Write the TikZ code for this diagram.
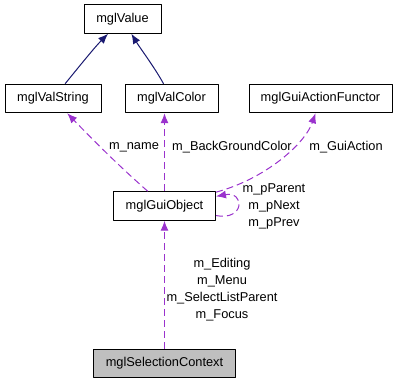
\documentclass[tikz,border=0pt]{standalone}
\usepackage{fontspec}
\setmainfont{Liberation Sans}
\usetikzlibrary{arrows.meta}
\definecolor{midnightblue}{HTML}{191970}
\definecolor{darkorchid3}{HTML}{9A32CD}
\definecolor{grey75}{HTML}{BFBFBF}

\begin{document}
\begin{tikzpicture}[>={Latex[length=10bp,width=8bp]},line join=bevel,
  font=\fontsize{12.8bp}{17bp}\selectfont,
  cls/.style={draw,line width=1bp,minimum height=28.5bp,inner sep=0pt},
  inherit/.style={midnightblue,line width=1bp,->},
  usage/.style={darkorchid3,line width=1bp,dash pattern=on 7bp off 4bp,->},
]
\useasboundingbox (0bp,0bp) rectangle (399bp,384bp);
%%
\node (node_0) at (122.5bp,365bp) [cls,minimum width=77bp] {mglValue};
  \node (node_1) at (53bp,285.5bp) [cls,minimum width=96bp] {mglValString};
  \node (node_2) at (171.5bp,285.5bp) [cls,minimum width=93bp] {mglValColor};
  \node (node_3) at (320.5bp,285.5bp) [cls,minimum width=143bp] {mglGuiActionFunctor};
  \node (node_4) at (164.5bp,178bp) [cls,minimum width=102bp] {mglGuiObject};
  \node (node_5) at (164.5bp,20.5bp) [cls,fill=grey75,minimum width=142bp] {mglSelectionContext};
%
  \draw [inherit] (node_1) ..controls (78bp,316bp) and (94bp,336bp)  .. (node_0);
  \draw [inherit] (node_2) ..controls (155bp,316bp) and (140bp,336bp)  .. (node_0);
%
  \draw [usage] (node_4) ..controls (119bp,218bp) and (94bp,243bp)  .. (node_1);
  \node (node_6) at (134bp,237bp) {m\_name};
  \draw [usage] (node_4) -- (node_4 |- node_2.south);
  \node (node_7) at (232bp,237bp) {m\_BackGroundColor};
  \draw [usage] (node_4) ..controls (265bp,205bp) and (305bp,240bp)  .. (node_3);
  \node (node_8) at (346bp,237bp) {m\_GuiAction};
  \draw [usage] (node_4) ..controls (245bp,163bp) and (245bp,193bp)  .. (node_4);
  \node (node_9) at (274bp,178bp) [align=center] {m\_pParent\\m\_pNext\\m\_pPrev};
  \draw [usage] (node_5) -- (node_4);
  \node (node_10) at (222bp,94.5bp) [align=center] {m\_Editing\\m\_Menu\\m\_SelectListParent\\m\_Focus};
%
\end{tikzpicture}
\end{document}
